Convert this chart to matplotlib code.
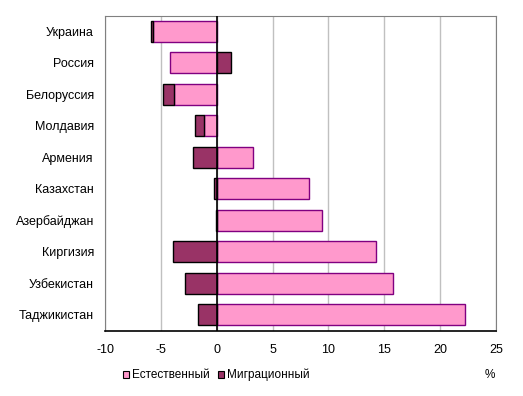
import numpy as np
import matplotlib.pyplot as plt
from matplotlib.patches import Patch

countries = ["Украина", "Россия", "Белоруссия", "Молдавия", "Армения",
             "Казахстан", "Азербайджан", "Киргизия", "Узбекистан", "Таджикистан"]
natural = [-5.7, -4.2, -3.85, -1.15, 3.25, 8.25, 9.4, 14.3, 15.8, 22.2]
migration = [-0.2, 1.25, -1.0, -0.8, -2.15, -0.27, -0.1, -3.95, -2.85, -1.7]

PINK = "#FF99CC"
PURPLE_EDGE = "#800080"
DARK = "#993366"

plt.rcParams["font.family"] = ["Liberation Sans", "DejaVu Sans"]
plt.rcParams["axes.unicode_minus"] = False

fig = plt.figure(figsize=(5.23, 3.96), dpi=100)
ax = fig.add_axes([105 / 523, 1 - 330.5 / 396, 391 / 523, 315 / 396])

y = np.arange(len(countries))
nat = np.array(natural)
mig = np.array(migration)
# migration stacks onto natural when both point the same way
mig_left = np.where(np.sign(nat) == np.sign(mig), nat, 0)

ax.barh(y, nat, height=0.67, color=PINK, edgecolor=PURPLE_EDGE, linewidth=1, zorder=3)
ax.barh(y, mig, left=mig_left, height=0.67, color=DARK, edgecolor="black", linewidth=1, zorder=3)

ax.set_xlim(-10, 25)
ax.set_ylim(len(countries) - 0.5, -0.5)
ax.set_xticks(np.arange(-10, 26, 5))
ax.set_yticks(y)
ax.set_yticklabels(countries)
ax.tick_params(axis="both", length=0, labelsize=9)
ax.tick_params(axis="y", pad=8)
ax.tick_params(axis="x", pad=10)

ax.grid(axis="x", color="#C0C0C0", linewidth=1, zorder=0)
ax.axvline(0, color="black", linewidth=1.2, zorder=4)
for side in ["top", "right", "left"]:
    ax.spines[side].set_color("#808080")
ax.spines["bottom"].set_color("black")
ax.spines["bottom"].set_linewidth(1.2)

handles = [Patch(facecolor=PINK, edgecolor="black", linewidth=0.8),
           Patch(facecolor=DARK, edgecolor="black", linewidth=0.8)]
fig.legend(handles, ["Естественный", "Миграционный"], loc="center left",
           bbox_to_anchor=(123 / 523, 1 - 375 / 396), ncol=2, frameon=False,
           fontsize=8.5, handlelength=0.55, handleheight=0.55, handletextpad=0.2,
           columnspacing=0.7, borderaxespad=0, borderpad=0)
fig.text(490 / 523, 1 - 375 / 396, "%", ha="center", va="center", fontsize=8.5)

fig.savefig("out.png", dpi=100)
